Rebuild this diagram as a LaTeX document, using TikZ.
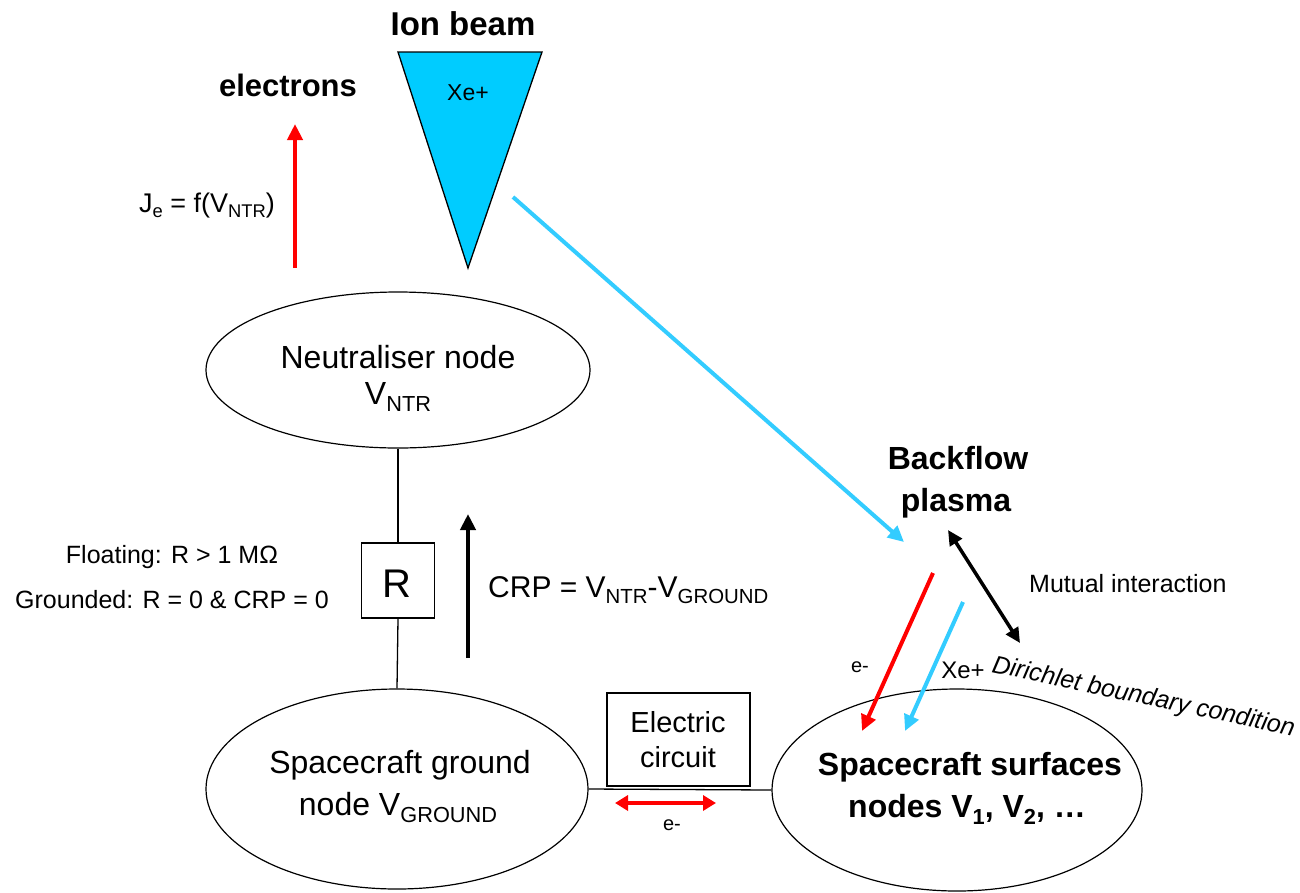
\documentclass[tikz,border=0pt]{standalone}
\usepackage{fontspec}
\setmainfont{Liberation Sans}
\usepackage{graphicx}
\usetikzlibrary{arrows.meta,shapes.geometric}
\definecolor{beamcyan}{HTML}{00CCFF}
\definecolor{arrowcyan}{HTML}{33CCFF}
\definecolor{arrowred}{HTML}{FF0000}
\newcommand\lsub[1]{\raisebox{-0.22em}{\scalebox{0.68}{#1}}}
\newcommand\fsz[1]{\fontsize{#1pt}{\the\dimexpr #1pt*12/10\relax}\selectfont}
\tikzset{
  ell/.style={draw, ellipse, line width=1.2pt, inner sep=0pt},
  boxnode/.style={draw, rectangle, line width=1.3pt, inner sep=0pt},
  wire/.style={line width=1.3pt},
  txt/.style={anchor=base, inner sep=0pt},
  redarrow/.style={draw=arrowred, line width=4pt, -{Triangle[length=16pt,width=15pt]}},
  cyanarrow/.style={draw=arrowcyan, line width=4pt, -{Triangle[length=16pt,width=15pt]}},
  blackarrow/.style={draw=black, line width=4pt, -{Triangle[length=16pt,width=15pt]}},
  blackdbl/.style={draw=black, line width=3.5pt, {Triangle[length=15pt,width=14pt]}-{Triangle[length=15pt,width=14pt]}},
  reddbl/.style={draw=arrowred, line width=4pt, {Triangle[length=13pt,width=15pt]}-{Triangle[length=13pt,width=15pt]}},
}
\begin{document}
\begin{tikzpicture}[x=1pt,y=-1pt]
\useasboundingbox (0,0) rectangle (1300,892);
\fill[white] (0,0) rectangle (1300,892);

% ion beam triangle
\coordinate (tl) at (398,52);
\coordinate (tr) at (542,52);
\coordinate (tip) at (468,268);
\filldraw[fill=beamcyan, draw=black, line width=1.3pt, line join=miter] (tl) -- (tr) -- (tip) -- cycle;
\node[txt] (xebeam) at (468,100) {\fsz{23}Xe+};
\node[txt] (ionbeam) at (463,35) {\fsz{33}\bfseries Ion beam};

% electrons
\node[txt] (electrons) at (288,96) {\fsz{31}\bfseries electrons};
\coordinate (eS) at (295,268);
\coordinate (eE) at (295,124);
\draw[redarrow] (eS) -- (eE);
\node[txt] (je) at (207,212) {\fsz{27}J\lsub{e} = f(V\lsub{NTR})};

% ellipses
\node[ell, minimum width=384pt, minimum height=156pt] (ntr) at (398,370) {};
\node[txt] (ntrtxt1) at (398,368) {\fsz{32}Neutraliser node};
\node[txt] (ntrtxt2) at (398,404) {\fsz{32}V\lsub{NTR}};

\node[ell, minimum width=382pt, minimum height=200pt] (gnd) at (397,789) {};
\node[txt] (gndtxt1) at (400,773) {\fsz{32}Spacecraft ground};
\node[txt] (gndtxt2) at (398,815) {\fsz{32}node V\lsub{GROUND}};

\node[ell, minimum width=370pt, minimum height=202pt] (surf) at (957,790) {};
\node[txt] (surftxt1) at (970,775) {\fsz{32}\bfseries Spacecraft surfaces};
\node[txt] (surftxt2) at (967,817) {\fsz{32}\bfseries nodes V\lsub{1}, V\lsub{2}, \ldots};

% resistor
\node[boxnode, minimum width=73pt, minimum height=75pt] (rbox) at (398,580.5) {};
\node[txt] (rtxt) at (397,597) {\fsz{40}R};
\draw[wire] (ntr.south) -- (rbox.north);
\draw[wire] (rbox.south) -- (gnd.north);

\node[txt] (floating) at (172,563) {\fsz{25}Floating: R > 1 M\symbol{"03A9}};
\node[txt] (grounded) at (172,608) {\fsz{25}Grounded: R = 0 \& CRP = 0};

% CRP arrow
\coordinate (cS) at (468,658);
\coordinate (cE) at (468,514);
\draw[blackarrow] (cS) -- (cE);
\node[txt, anchor=base west] (crp) at (488,597) {\fsz{30}CRP = V\lsub{NTR}-V\lsub{GROUND}};

% electric circuit
\node[boxnode, minimum width=143pt, minimum height=93pt] (circ) at (678.5,739.5) {};
\node[txt] (circtxt1) at (678,732) {\fsz{29}Electric};
\node[txt] (circtxt2) at (678,767) {\fsz{29}circuit};
\draw[wire] (gnd.east) -- (surf.west);
\coordinate (dL) at (615,803);
\coordinate (dR) at (716,803);
\draw[reddbl] (dL) -- (dR);
\node[txt] (emid) at (672,830) {\fsz{20}e-};

% backflow plasma
\node[txt] (bf1) at (958,469) {\fsz{32}\bfseries Backflow};
\node[txt] (bf2) at (956,511) {\fsz{32}\bfseries plasma};
\coordinate (bS) at (513,197);
\coordinate (bE) at (904,542);
\draw[cyanarrow] (bS) -- (bE);

\coordinate (mA) at (948,530);
\coordinate (mB) at (1020,643);
\draw[blackdbl] (mA) -- (mB);
\node[txt, anchor=base west] (mutual) at (1029,592) {\fsz{25}Mutual interaction};

\coordinate (rS) at (933,573);
\coordinate (rE) at (862,731);
\draw[redarrow] (rS) -- (rE);
\coordinate (xS) at (963,602);
\coordinate (xE) at (905,731);
\draw[cyanarrow] (xS) -- (xE);
\node[txt] (eleft) at (860,672) {\fsz{20}e-};
\node[txt] (xeright) at (963,678) {\fsz{24}Xe+};
\node[txt, anchor=base west, rotate=-12] (dirichlet) at (991,672) {\fsz{25}\itshape Dirichlet boundary condition};
\end{tikzpicture}
\end{document}
